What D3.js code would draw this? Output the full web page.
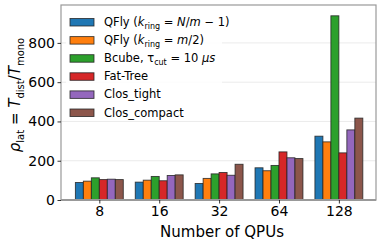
<!DOCTYPE html>
<html>
<head>
<meta charset="utf-8">
<script src="https://cdn.jsdelivr.net/npm/d3@7"></script>
<style>
  body { margin: 0; background: #fff; }
  text { font-family: "DejaVu Sans", sans-serif; fill: #000; }
</style>
</head>
<body>
<script>
// chart data
var categories = ["8", "16", "32", "64", "128"];
var qfly1 = [89, 91, 84, 164, 325];
var qfly2 = [96, 101, 110, 149, 296];
var bcube = [113, 120, 133, 176, 938];
var fattree = [104, 98, 140, 245, 240];
var clostight = [106, 125, 126, 215, 357];
var closcompact = [104, 128, 182, 211, 417];
var yTicks = [0, 200, 400, 600, 800];
var colors = ["#1f77b4", "#ff7f0e", "#2ca02c", "#d62728", "#9467bd", "#8c564b"];

(function(){

var allSeries = [qfly1, qfly2, bcube, fattree, clostight, closcompact];

var W = 382, H = 246;
var mLeft = 61, mRight = 376, mTop = 5, mBottom = 200;

var svg = d3.select("body").append("svg")
    .attr("width", W)
    .attr("height", H);

var x = d3.scaleLinear().domain([-0.64, 4.62]).range([mLeft, mRight]);
var y = d3.scaleLinear().domain([0, 993]).range([mBottom, mTop]);

var barW = 0.8 / 6;

// gridlines
svg.append("g").selectAll("line")
  .data(yTicks)
  .enter().append("line")
    .attr("x1", mLeft).attr("x2", mRight)
    .attr("y1", function(d){ return y(d); })
    .attr("y2", function(d){ return y(d); })
    .attr("stroke", "#e6e6e6")
    .attr("stroke-width", 0.8);

// bars
allSeries.forEach(function(vals, s){
  svg.append("g").selectAll("rect")
    .data(vals)
    .enter().append("rect")
      .attr("x", function(d, i){ return x(i - 0.4 + s * barW); })
      .attr("width", x(barW) - x(0))
      .attr("y", function(d){ return y(d); })
      .attr("height", function(d){ return y(0) - y(d); })
      .attr("fill", colors[s])
      .attr("stroke", "#222")
      .attr("stroke-opacity", 0.85)
      .attr("stroke-width", 0.9);
});

// frame
svg.append("rect")
  .attr("x", mLeft).attr("y", mTop)
  .attr("width", mRight - mLeft).attr("height", mBottom - mTop)
  .attr("fill", "none")
  .attr("stroke", "#999")
  .attr("stroke-width", 1.2);
svg.append("line")
  .attr("x1", mLeft).attr("x2", mRight)
  .attr("y1", mBottom).attr("y2", mBottom)
  .attr("stroke", "#999").attr("stroke-width", 2);

// y axis
var yAxis = svg.append("g")
  .attr("transform", "translate(" + mLeft + ",0)")
  .call(d3.axisLeft(y).tickValues(yTicks).tickSize(3.5).tickPadding(2.5));
yAxis.select(".domain").remove();
yAxis.selectAll("text").style("font-size", "14px").style("font-family", "DejaVu Sans");
yAxis.selectAll("line").attr("stroke", "#000").attr("stroke-width", 0.8);

// x axis
var xAxis = svg.append("g")
  .attr("transform", "translate(0," + mBottom + ")")
  .call(d3.axisBottom(x).tickValues(d3.range(categories.length))
    .tickFormat(function(i){ return categories[i]; })
    .tickSize(3.5).tickPadding(3));
xAxis.select(".domain").remove();
xAxis.selectAll("text").style("font-size", "14px").style("font-family", "DejaVu Sans");
xAxis.selectAll("line").attr("stroke", "#000").attr("stroke-width", 0.8);

// axis labels
svg.append("text")
  .attr("x", 222).attr("y", 237)
  .attr("text-anchor", "middle")
  .style("font-size", "15px")
  .text("Number of QPUs");

var yl = svg.append("text")
  .attr("transform", "translate(20,95) rotate(-90)")
  .attr("text-anchor", "middle")
  .style("font-size", "15px");
yl.append("tspan").style("font-style", "italic").text("ρ");
yl.append("tspan").attr("dy", 4).style("font-size", "10px").text("lat");
yl.append("tspan").attr("dy", -4).text(" = ");
yl.append("tspan").style("font-style", "italic").text("T");
yl.append("tspan").attr("dy", 4).style("font-size", "10px").text("dist");
yl.append("tspan").attr("dy", -4).text("/");
yl.append("tspan").style("font-style", "italic").text("T");
yl.append("tspan").attr("dy", 4).style("font-size", "10px").text("mono");

// legend
var legend = svg.append("g");
legend.append("rect")
  .attr("x", 66).attr("y", 10)
  .attr("width", 156).attr("height", 110)
  .attr("fill", "#fff").attr("fill-opacity", 0.85)
  .attr("stroke", "none");

var legendRows = [
  [["QFly (", ""], ["k", "i"], ["ring", "s"], [" = ", ""], ["N", "i"], ["/", ""], ["m", "i"], [" − 1)", ""]],
  [["QFly (", ""], ["k", "i"], ["ring", "s"], [" = ", ""], ["m", "i"], ["/2)", ""]],
  [["Bcube, τ", ""], ["cut", "s"], [" = 10 ", ""], ["μs", "i"]],
  [["Fat-Tree", ""]],
  [["Clos_tight", ""]],
  [["Clos_compact", ""]]
];

legendRows.forEach(function(parts, i){
  var yy = 22 + i * 18.1;
  legend.append("rect")
    .attr("x", 70).attr("y", yy - 3.5)
    .attr("width", 24).attr("height", 7.5)
    .attr("fill", colors[i])
    .attr("stroke", "#222").attr("stroke-opacity", 0.85).attr("stroke-width", 0.9);
  var t = legend.append("text")
    .attr("x", 104).attr("y", yy + 4)
    .style("font-size", "11.5px");
  var sub = false;
  parts.forEach(function(p){
    var ts = t.append("tspan").text(p[0]);
    if (p[1] == "i") ts.style("font-style", "italic");
    if (p[1] == "s") {
      ts.style("font-size", "8px").attr("dy", 2.5);
      sub = true;
    } else if (sub) {
      ts.attr("dy", -2.5);
      sub = false;
    }
  });
});

})();
</script>
</body>
</html>
